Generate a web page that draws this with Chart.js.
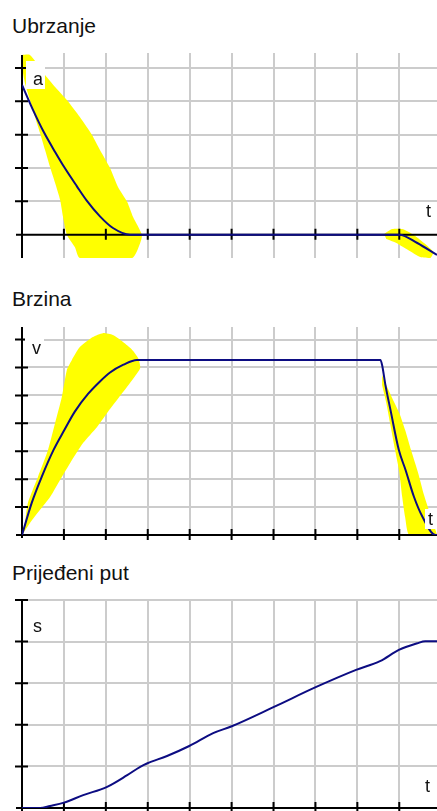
<!DOCTYPE html>
<html>
<head>
<meta charset="utf-8">
<script src="https://cdn.jsdelivr.net/npm/chart.js@4.4.1/dist/chart.umd.min.js"></script>
<style>
  body { margin: 0; background: #fff; width: 437px; height: 811px; overflow: hidden; position: relative; font-family: "Liberation Sans", Arial, sans-serif; }
  .title { position: absolute; left: 12px; font-size: 21px; line-height: 21px; color: #111; white-space: nowrap; }
  canvas { position: absolute; left: 0; }
</style>
</head>
<body>
<div class="title" style="top:15px">Ubrzanje</div>
<canvas id="chartAcc" width="437" height="220" style="top:45px"></canvas>
<div class="title" style="top:288px">Brzina</div>
<canvas id="chartVel" width="437" height="225" style="top:318px"></canvas>
<div class="title" style="top:562px">Prijeđeni put</div>
<canvas id="chartDist" width="437" height="221" style="top:590px"></canvas>

<script>
// tick positions (time axis shared by all three panels)
const xTicks = [1, 2, 3, 4, 5, 6, 7, 8, 9];
const accTicks = [1, 2, 3, 4, 5];
const velTicks = [1, 2, 3, 4, 5, 6, 7];
const distTicks = [1, 2, 3, 4, 5];

// acceleration a(t)
const accT = [0, 0.27, 0.51, 0.79, 1.01, 1.31, 1.54, 1.86, 2.17, 2.58, 9.0, 9.43, 9.9];
const accA = [4.49, 3.72, 3.1, 2.48, 2.02, 1.45, 1.03, 0.55, 0.2, 0, 0, -0.25, -0.61];

// velocity v(t)
const velT = [0, 0.23, 0.47, 0.75, 1.01, 1.26, 1.58, 1.86, 2.1, 2.42, 2.74, 8.55, 8.59, 8.67, 8.79, 8.99, 9.15, 9.35, 9.55, 9.86, 9.9];
const velV = [0, 1.14, 2.08, 3.04, 3.76, 4.42, 5.06, 5.5, 5.82, 6.1, 6.27, 6.27, 6.09, 5.37, 4.48, 3.04, 2.33, 1.37, 0.66, 0, 0];

// distance s(t)
const distT = [0, 0.43, 0.67, 1.0, 1.46, 2.03, 2.51, 2.82, 2.98, 3.46, 3.99, 4.56, 4.99, 6.01, 7.02, 7.97, 8.54, 8.99, 9.43, 9.62, 9.9];
const distS = [0, 0, 0.05, 0.13, 0.31, 0.51, 0.79, 0.99, 1.07, 1.25, 1.49, 1.8, 1.96, 2.43, 2.91, 3.32, 3.53, 3.8, 3.96, 4.01, 4.01];

// yellow highlighted regions (outline points, t / value)
const accZone1 = [[0, 5.39], [0.19, 5.39], [0.55, 4.79], [0.79, 4.43], [1.07, 4.04], [1.38, 3.53], [1.67, 2.99], [1.86, 2.54],
  [2.1, 2.0], [2.29, 1.43], [2.51, 0.98], [2.65, 0.53], [2.86, 0], [2.82, -0.25], [2.63, -0.7], [1.38, -0.7], [1.26, -0.37],
  [1.07, 0], [0.98, 0.53], [0.91, 1.04], [0.79, 1.55], [0.67, 2.03], [0.55, 2.54], [0.43, 3.05], [0.31, 3.53], [0.19, 4.04],
  [0.07, 4.55], [0, 5.03]];
const accZone2 = [[8.64, 0.02], [8.83, 0.17], [9.07, 0.17], [9.31, 0.02], [9.59, -0.25], [9.81, -0.52], [9.74, -0.7],
  [9.5, -0.67], [9.21, -0.46], [8.93, -0.25], [8.69, -0.13]];
const velZone1 = [[0, 0], [0.07, 0.43], [0.14, 1.15], [0.38, 2.08], [0.62, 3.04], [0.79, 4.01], [0.95, 4.94], [1.07, 5.91],
  [1.19, 6.27], [1.38, 6.73], [1.69, 7.09], [1.93, 7.23], [2.17, 7.16], [2.41, 6.91], [2.63, 6.63], [2.77, 6.34], [2.82, 5.98],
  [2.63, 5.55], [2.27, 4.84], [2.03, 4.37], [1.79, 3.87], [1.46, 3.3], [1.15, 2.58], [0.95, 2.08], [0.67, 1.36], [0.43, 0.9],
  [0.19, 0.43]];
const velZone2 = [[8.59, 5.73], [8.69, 5.37], [8.83, 4.91], [9.0, 4.37], [9.14, 3.76], [9.28, 3.04], [9.45, 2.22], [9.59, 1.43],
  [9.76, 0.64], [9.9, 0], [9.24, 0], [9.14, 0.64], [9.07, 1.36], [9.0, 2.26], [8.9, 3.04], [8.78, 4.01], [8.69, 4.73], [8.59, 5.37]];

const CURVE = '#0c0c82';
const ZONE = '#ffff00';
const GRID = '#cccccc';

function toPoints(xs, ys) {
    return xs.map((x, i) => ({ x: x, y: ys[i] }));
}

function curveSet(xs, ys) {
    return {
        data: toPoints(xs, ys),
        showLine: true,
        borderColor: CURVE,
        borderWidth: 2,
        pointRadius: 0,
        cubicInterpolationMode: 'monotone',
        fill: false
    };
}

function zoneSet(pairs) {
    return {
        data: pairs.map(p => ({ x: p[0], y: p[1] })),
        showLine: true,
        borderWidth: 0,
        borderColor: 'rgba(0,0,0,0)',
        backgroundColor: ZONE,
        pointRadius: 0,
        tension: 0.2,
        fill: 'shape'
    };
}

function fixedTicks(values) {
    return function(scale) {
        scale.ticks = values.map(v => ({ value: v }));
    };
}

// axes with tick marks and the a / v / s / t labels
const axesPlugin = {
    id: 'axes',
    beforeDatasetDraw(chart, args, opts) {
        if (args.index !== 0) return;
        const ctx = chart.ctx;
        const xs = chart.scales.x;
        const ys = chart.scales.y;
        const area = chart.chartArea;
        const x0 = xs.getPixelForValue(0);
        const y0 = ys.getPixelForValue(0);
        ctx.save();
        ctx.strokeStyle = '#000';
        ctx.lineWidth = 2;
        ctx.beginPath();
        ctx.moveTo(x0, area.top + opts.axisTop);
        ctx.lineTo(x0, area.bottom + opts.axisBottom);
        ctx.moveTo(x0 - 6, y0);
        ctx.lineTo(area.right, y0);
        xTicks.forEach(v => {
            const p = xs.getPixelForValue(v);
            ctx.moveTo(p, y0 - 6);
            ctx.lineTo(p, y0 + 5);
        });
        opts.yTicks.forEach(v => {
            const p = ys.getPixelForValue(v);
            ctx.moveTo(x0 - 7, p);
            ctx.lineTo(x0 + 6, p);
        });
        ctx.stroke();
        ctx.restore();
    },
    afterDatasetsDraw(chart, args, opts) {
        const ctx = chart.ctx;
        ctx.save();
        ctx.font = '18px "Liberation Sans", Arial, sans-serif';
        ctx.textBaseline = 'alphabetic';
        ctx.textAlign = 'left';
        opts.labels.forEach(l => {
            if (l.box) {
                ctx.fillStyle = '#fff';
                ctx.fillRect(l.box[0], l.box[1], l.box[2], l.box[3]);
            }
            ctx.fillStyle = '#111';
            ctx.fillText(l.text, l.x, l.y);
        });
        ctx.restore();
    }
};

function makeChart(id, datasets, yMin, yMax, yTicks, padding, axisOpts) {
    const ctx = document.getElementById(id).getContext('2d');
    return new Chart(ctx, {
        type: 'scatter',
        data: { datasets: datasets },
        options: {
            responsive: false,
            animation: false,
            devicePixelRatio: 1,
            events: [],
            layout: { padding: padding },
            scales: {
                x: {
                    type: 'linear', min: 0, max: 9.9,
                    afterBuildTicks: fixedTicks(xTicks),
                    ticks: { display: false },
                    border: { display: false },
                    grid: { color: GRID, lineWidth: 2, drawTicks: false }
                },
                y: {
                    type: 'linear', min: yMin, max: yMax,
                    afterBuildTicks: fixedTicks(yTicks),
                    ticks: { display: false },
                    border: { display: false },
                    grid: { color: GRID, lineWidth: 2, drawTicks: false }
                }
            },
            plugins: {
                legend: { display: false },
                tooltip: { enabled: false },
                axes: Object.assign({ yTicks: yTicks }, axisOpts)
            }
        },
        plugins: [axesPlugin]
    });
}

makeChart('chartAcc',
    [curveSet(accT, accA), zoneSet(accZone1), zoneSet(accZone2)],
    -0.7, 5.45, accTicks,
    { left: 22, right: 0, top: 8, bottom: 7 },
    {
        axisTop: 2, axisBottom: 0,
        labels: [
            { text: 'a', x: 33, y: 40, box: [26, 16, 19, 28] },
            { text: 't', x: 426, y: 172, box: [423, 157, 14, 20] }
        ]
    });

makeChart('chartVel',
    [curveSet(velT, velV), zoneSet(velZone1), zoneSet(velZone2)],
    0, 7.45, velTicks,
    { left: 22, right: 0, top: 9, bottom: 8 },
    {
        axisTop: 0, axisBottom: 3,
        labels: [
            { text: 'v', x: 32, y: 36, box: [25, 18, 19, 24] },
            { text: 't', x: 428, y: 207, box: [425, 191, 12, 20] }
        ]
    });

makeChart('chartDist',
    [curveSet(distT, distS)],
    0, 5, distTicks,
    { left: 22, right: 0, top: 10, bottom: 3 },
    {
        axisTop: 0, axisBottom: 3,
        labels: [
            { text: 's', x: 33, y: 42 },
            { text: 't', x: 425, y: 202 }
        ]
    });
</script>
</body>
</html>
